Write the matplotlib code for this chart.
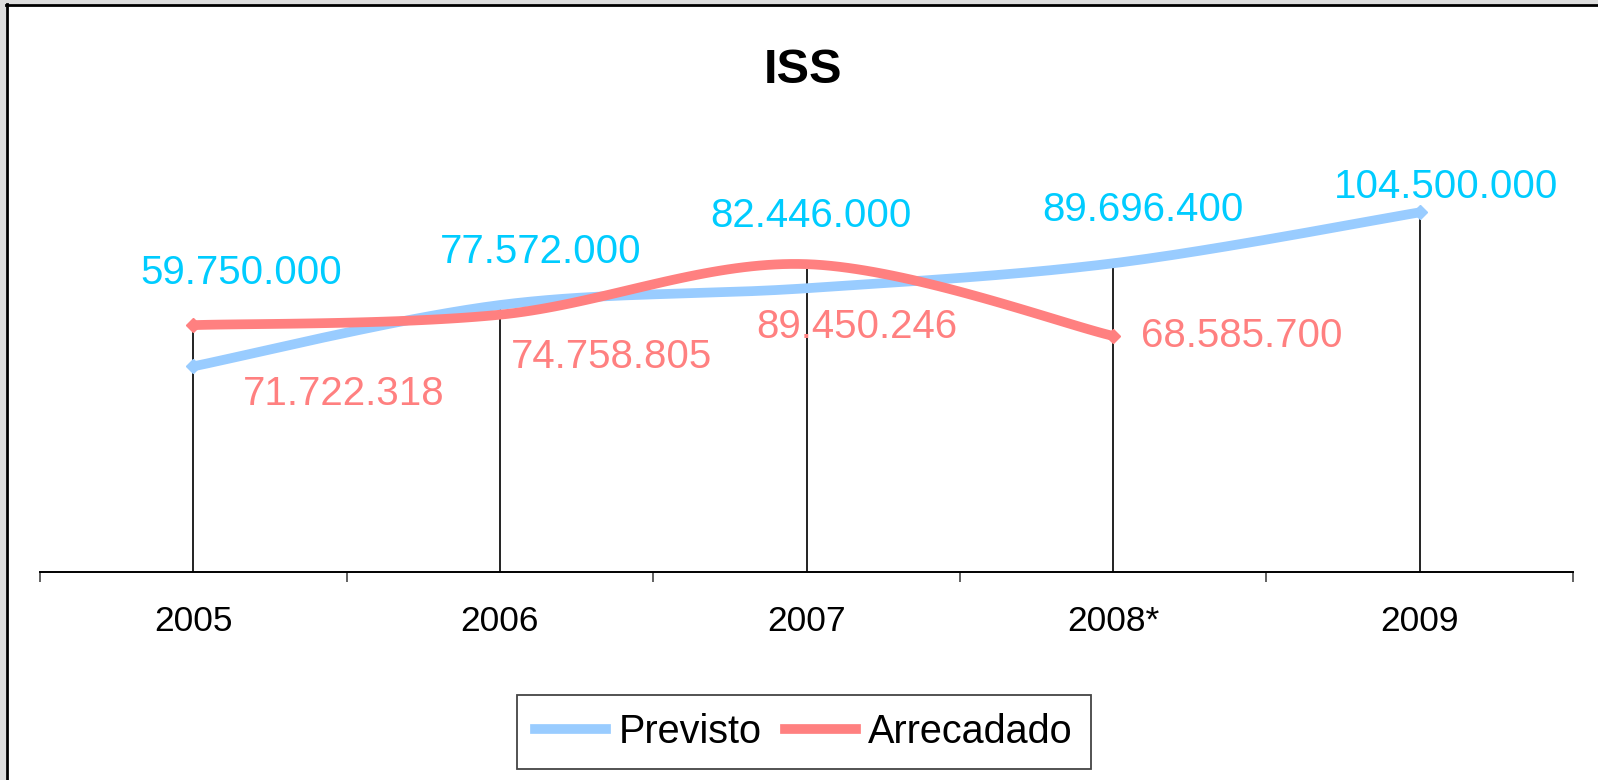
import numpy as np
import matplotlib
matplotlib.use('Agg')
import matplotlib.pyplot as plt
from matplotlib.lines import Line2D
from matplotlib.patches import Rectangle

plt.rcParams['font.family'] = ['Liberation Sans', 'DejaVu Sans']

years = ['2005', '2006', '2007', '2008*', '2009']
previsto = [59750000, 77572000, 82446000, 89696400, 104500000]
arrecadado = [71722318, 74758805, 89450246, 68585700]

# label offsets in pixels (dx, dy from the point, baseline)
prev_off = [(48, 82), (41, 42), (4, 61), (30, 42), (26, 14)]
arr_off = [(150, -80), (112, -53), (50, -74), (129, -11)]

W, H = 1598, 780
BLUE = '#99CCFF'
CYAN = '#00CCFF'
RED = '#FF8080'


def smooth(vals, n=40):
    p = np.column_stack([np.arange(len(vals)), np.asarray(vals, float)])
    out = []
    for i in range(len(p) - 1):
        p0 = p[max(i - 1, 0)]
        p1 = p[i]
        p2 = p[i + 1]
        p3 = p[min(i + 2, len(p) - 1)]
        c1 = p1 + (p2 - p0) / 6
        c2 = p2 - (p3 - p1) / 6
        t = np.linspace(0, 1, n)[:, None]
        seg = (1-t)**3*p1 + 3*(1-t)**2*t*c1 + 3*(1-t)*t**2*c2 + t**3*p2
        out.append(seg if i == 0 else seg[1:])
    return np.vstack(out)


def fmt(v):
    return f'{v:,}'.replace(',', '.')


fig = plt.figure(figsize=(W / 100, H / 100), dpi=100)
ax = fig.add_axes([40 / W, 1 - 572 / H, 1533 / W, 413 / H])

x = np.arange(len(years))

# drop lines
for i in range(len(years)):
    top = previsto[i]
    if i < len(arrecadado):
        top = max(top, arrecadado[i])
    ax.plot([i, i], [0, top], color='#111111', lw=1.3, zorder=1)

sp = smooth(previsto)
sa = smooth(arrecadado)
ax.plot(sp[:, 0], sp[:, 1], color=BLUE, lw=7, solid_capstyle='butt', zorder=2)
ax.plot(sa[:, 0], sa[:, 1], color=RED, lw=7, solid_capstyle='butt', zorder=3)
ax.plot([x[0], x[-1]], [previsto[0], previsto[-1]], 'D', color=BLUE, ms=7.5, zorder=2)
ax.plot([0, len(arrecadado) - 1], [arrecadado[0], arrecadado[-1]], 'D', color=RED, ms=7.5, zorder=3)

for i, v in enumerate(previsto):
    ax.annotate(fmt(v), (i, v), xytext=prev_off[i], textcoords='offset pixels',
                ha='center', va='baseline', fontsize=29, color=CYAN)
for i, v in enumerate(arrecadado):
    ax.annotate(fmt(v), (i, v), xytext=arr_off[i], textcoords='offset pixels',
                ha='center', va='baseline', fontsize=29, color=RED)

ax.set_xlim(-0.5, len(years) - 0.5)
ax.set_ylim(0, 120000000)
for s in ['left', 'right', 'top']:
    ax.spines[s].set_visible(False)
ax.spines['bottom'].set_linewidth(1.4)
ax.set_yticks([])
ax.set_xticks(np.arange(-0.5, len(years)))
ax.set_xticklabels([])
ax.tick_params(axis='x', which='major', length=7, width=1.3, color='#555555')
ax.set_xticks(x, minor=True)
ax.set_xticklabels(years, minor=True, fontsize=25.5)
ax.tick_params(axis='x', which='minor', length=0, pad=24)

fig.text(803 / W, 1 - 83 / H, 'ISS', fontsize=35, fontweight='bold',
         ha='center', va='baseline')

handles = [Line2D([], [], color=BLUE, lw=7), Line2D([], [], color=RED, lw=7)]
leg = fig.legend(handles, ['Previsto', 'Arrecadado'], loc='center',
                 bbox_to_anchor=(804 / W, 1 - 732 / H), ncol=2, fontsize=28.5,
                 fancybox=False, handlelength=1.8, handletextpad=0.3,
                 columnspacing=0.6, borderpad=0.45, framealpha=1)
leg.get_frame().set_edgecolor('#444444')
leg.get_frame().set_linewidth(1.3)

# outer frame (gray margin + dark border on left and top)
fig.add_artist(Rectangle((0, 0), 6 / W, 1, transform=fig.transFigure,
                         color='#dddddd', lw=0))
fig.add_artist(Rectangle((0, 1 - 4 / H), 1, 4 / H, transform=fig.transFigure,
                         color='#dddddd', lw=0))
fig.add_artist(Line2D([7 / W, 7 / W], [0, 1 - 4 / H], transform=fig.transFigure,
                      color='black', lw=2))
fig.add_artist(Line2D([6 / W, 1], [1 - 5 / H, 1 - 5 / H], transform=fig.transFigure,
                      color='black', lw=2))

fig.savefig('out.png', dpi=100)
